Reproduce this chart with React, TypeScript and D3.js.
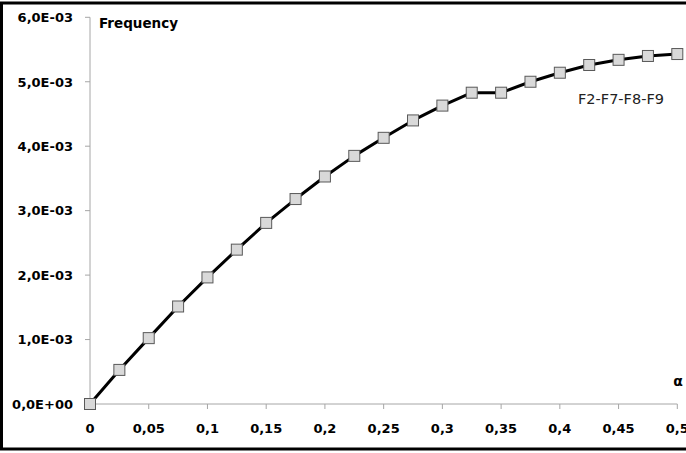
import React, { useEffect, useRef } from 'react';
import * as d3 from 'd3';

// alpha values on the x axis
const alphaValues = [
  0, 0.025, 0.05, 0.075, 0.1, 0.125, 0.15, 0.175, 0.2, 0.225, 0.25,
  0.275, 0.3, 0.325, 0.35, 0.375, 0.4, 0.425, 0.45, 0.475, 0.5,
];

// frequency
const frequencyValues = [
  0, 0.000529, 0.001022, 0.001513, 0.001964, 0.002395, 0.00281, 0.00318,
  0.00353, 0.00385, 0.00413, 0.0044, 0.00463, 0.00483, 0.00483, 0.005,
  0.00514, 0.00526, 0.00534, 0.0054, 0.00543,
];

const xTicks = [0, 0.05, 0.1, 0.15, 0.2, 0.25, 0.3, 0.35, 0.4, 0.45, 0.5];
const xTickLabels = ['0', '0,05', '0,1', '0,15', '0,2', '0,25', '0,3', '0,35', '0,4', '0,45', '0,5'];
const yTicks = [0, 0.001, 0.002, 0.003, 0.004, 0.005, 0.006];
const yTickLabels = ['0,0E+00', '1,0E-03', '2,0E-03', '3,0E-03', '4,0E-03', '5,0E-03', '6,0E-03'];

const seriesName = 'F2-F7-F8-F9';

const App: React.FC = () => {
  const svgRef = useRef<SVGSVGElement>(null);

  useEffect(() => {
    if (!svgRef.current) return;
    const svg = d3.select(svgRef.current);
    svg.selectAll('*').remove();

    const width = 686;
    const height = 453;
    const font = "'DejaVu Sans', sans-serif";

    const x = d3.scaleLinear().domain([0, 0.5]).range([90, 677.3]);
    const y = d3.scaleLinear().domain([0, 0.006]).range([404, 17.3]);

    // outer frame (right side runs off the picture)
    svg.append('rect')
      .attr('x', 1.5).attr('y', 3)
      .attr('width', width + 10).attr('height', 446)
      .attr('fill', 'white')
      .attr('stroke', '#000')
      .attr('stroke-width', 3);

    const axisColor = '#a6a6a6';

    // y axis
    svg.append('line')
      .attr('x1', x(0)).attr('x2', x(0))
      .attr('y1', y(0)).attr('y2', y(0.006))
      .attr('stroke', axisColor).attr('stroke-width', 1);
    svg.append('g').selectAll('line')
      .data(yTicks)
      .join('line')
        .attr('x1', x(0) - 5).attr('x2', x(0))
        .attr('y1', d => y(d)).attr('y2', d => y(d))
        .attr('stroke', axisColor);
    svg.append('g')
      .style('font', `bold 13px ${font}`)
      .attr('text-anchor', 'end')
      .selectAll('text')
      .data(yTicks)
      .join('text')
        .attr('x', 73)
        .attr('y', d => y(d) + 4.8)
        .text((d, i) => yTickLabels[i]);

    // x axis
    svg.append('line')
      .attr('x1', x(0)).attr('x2', x(0.5))
      .attr('y1', y(0)).attr('y2', y(0))
      .attr('stroke', axisColor).attr('stroke-width', 1);
    svg.append('g').selectAll('line')
      .data(xTicks)
      .join('line')
        .attr('x1', d => x(d)).attr('x2', d => x(d))
        .attr('y1', y(0)).attr('y2', y(0) + 5)
        .attr('stroke', axisColor);
    svg.append('g')
      .style('font', `bold 13px ${font}`)
      .attr('text-anchor', 'middle')
      .selectAll('text')
      .data(xTicks)
      .join('text')
        .attr('x', d => x(d))
        .attr('y', 433)
        .text((d, i) => xTickLabels[i]);

    // axis titles
    svg.append('text')
      .attr('x', 99).attr('y', 28)
      .style('font', `bold 13.5px ${font}`)
      .text('Frequency');
    svg.append('text')
      .attr('x', 678).attr('y', 386)
      .attr('text-anchor', 'middle')
      .style('font', `bold 14px ${font}`)
      .text('α');

    // series line
    const points = alphaValues.map((a, i) => [a, frequencyValues[i]] as [number, number]);
    const line = d3.line<[number, number]>()
      .x(d => x(d[0]))
      .y(d => y(d[1]))
      .curve(d3.curveLinear);
    svg.append('path')
      .datum(points)
      .attr('d', line)
      .attr('fill', 'none')
      .attr('stroke', '#000')
      .attr('stroke-width', 3)
      .attr('stroke-linejoin', 'round');

    // square markers
    const s = 11;
    svg.append('g').selectAll('rect')
      .data(points)
      .join('rect')
        .attr('x', d => x(d[0]) - s / 2)
        .attr('y', d => y(d[1]) - s / 2)
        .attr('width', s).attr('height', s)
        .attr('fill', '#d9d9d9')
        .attr('stroke', '#595959')
        .attr('stroke-width', 1);

    // series label
    svg.append('text')
      .attr('x', 578).attr('y', 104)
      .style('font', `14.5px ${font}`)
      .attr('fill', '#222')
      .text(seriesName);
  }, []);

  return (
    <svg
      ref={svgRef}
      width={686}
      height={453}
      style={{ position: 'absolute', left: 0, top: 0, display: 'block', background: 'white' }}
    />
  );
};

export default App;
